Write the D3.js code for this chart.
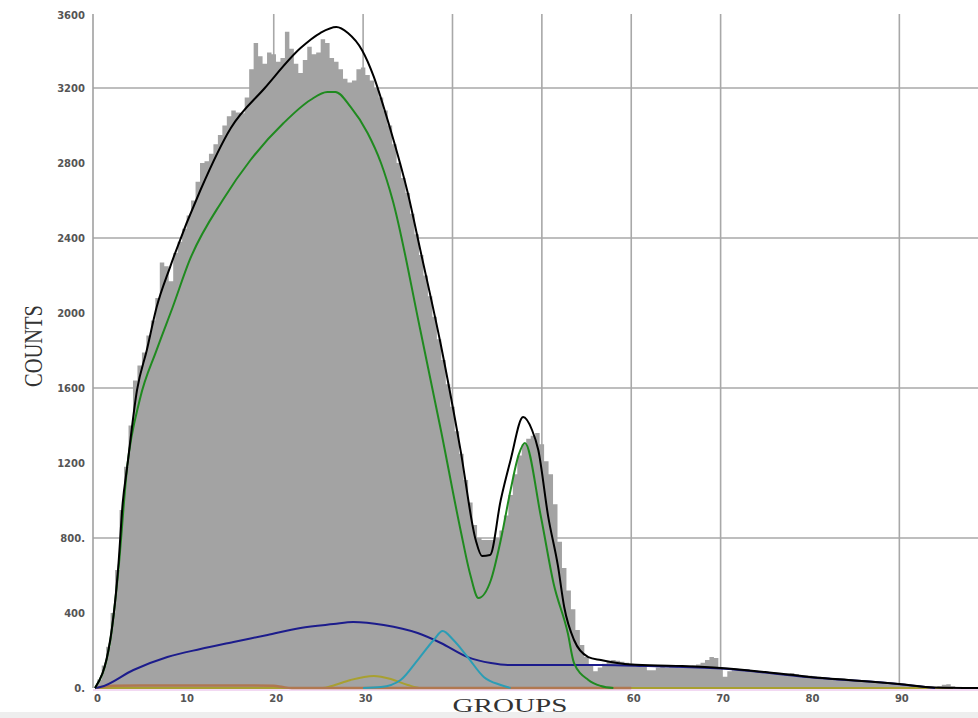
<!DOCTYPE html>
<html>
<head>
<meta charset="utf-8">
<script src="https://cdn.jsdelivr.net/npm/d3@7"></script>
<style>
  html, body { margin: 0; padding: 0; background: #ffffff; }
  svg { display: block; }
</style>
</head>
<body>
<svg id="chart" width="978" height="718"></svg>
<script>
// ---------------- DATA ----------------
// y axis ticks
const yTickValues = [0, 400, 800, 1200, 1600, 2000, 2400, 2800, 3200, 3600];
const yTickLabels = ["0.", "400", "800.", "1200", "1600", "2000", "2400", "2800", "3200", "3600"];
const yGridValues = [800, 1600, 2400, 3200];
// x axis ticks
const xTickValues = [0, 10, 20, 30, 60, 70, 80, 90];
const xTickLabels = ["0", "10", "20", "30", "60", "70", "80", "90"];
const xGridValues = [20, 30, 40, 50, 60, 70, 90];

// histogram (bin width 0.5 group, first bin at group 0)
const histStart = 0;
const histBinWidth = 0.5;
const histCounts = [
  0, 45, 120, 220, 400, 630, 950, 1180, 1400, 1640,
  1720, 1790, 1880, 1960, 2080, 2270, 2250, 2170, 2320, 2380,
  2450, 2520, 2600, 2700, 2800, 2810, 2850, 2900, 2950, 3000,
  3050, 3080, 3070, 3065, 3150, 3300, 3440, 3370, 3330, 3390,
  3380, 3340, 3360, 3500, 3410, 3330, 3280, 3350, 3420, 3380,
  3390, 3460, 3440, 3360, 3340, 3300, 3250, 3230, 3240, 3300,
  3310, 3270, 3240, 3200, 3150, 3080, 3000, 2900, 2800, 2720,
  2640, 2530, 2420, 2310, 2200, 2090, 1980, 1860, 1750, 1620,
  1500, 1370, 1250, 1110, 990, 870, 800, 790, 790, 790,
  800, 840, 920, 1030, 1140, 1240, 1300, 1330, 1345, 1360,
  1300, 1210, 1140, 980, 780, 640, 520, 420, 310, 230,
  165, 120, 90, 110, 130, 145, 150, 145, 140, 135,
  130, 125, 120, 120, 95, 95, 110, 115, 110, 112,
  115, 110, 110, 115, 120, 125, 135, 150, 165, 160,
  110, 60, 90, 95, 95, 100, 100, 95, 90, 88,
  85, 82, 80, 78, 75, 78, 80, 75, 70, 68,
  65, 62, 60, 58, 55, 52, 50, 47, 45, 42,
  40, 37, 35, 32, 30, 27, 25, 22, 20, 20,
  20, 18, 15, 12, 10, 8, 8, 6, 5, 10,
  18, 20, 10, 3, 0, 0, 0
];

// fitted total (black)
const totalGroups = [0, 1.7, 2.6, 3.1, 3.6, 4.7, 5.8, 6.9, 8.4, 11.8, 15.2, 19.0, 23.0, 25.2, 27.0, 28.3, 29.9, 31.2, 32.3, 33.4, 35, 36.4, 38.7, 40.9, 42.6, 43.3, 44.2, 45.4, 46.5, 47.9, 48.9, 49.6, 50.7, 51.8, 52.5, 53.6, 55.2, 56.6, 60, 65, 70, 75, 80, 85, 90, 94, 98.8];
const totalCounts = [0, 256, 645, 987, 1179, 1589, 1803, 2032, 2245, 2656, 2987, 3200, 3413, 3493, 3525, 3493, 3400, 3259, 3099, 2923, 2640, 2336, 1829, 1269, 789, 704, 709, 1003, 1216, 1445, 1376, 1269, 917, 651, 432, 256, 165, 149, 125, 118, 107, 85, 59, 40, 21, 3, 0];

// main component (green)
const mainGroups = [0, 1.7, 2.6, 3.6, 5.0, 6.9, 8.7, 10.6, 14.3, 17.4, 21.1, 24.1, 26.0, 26.9, 28.6, 30.5, 32.0, 33.3, 36.4, 38.7, 40.9, 42.0, 42.9, 44.3, 45.4, 46.5, 47.4, 48.1, 49.9, 51.3, 52.9, 53.6, 55.2, 56.6, 58];
const mainCounts = [0, 250, 620, 1179, 1536, 1803, 2032, 2283, 2603, 2816, 3013, 3136, 3179, 3179, 3099, 2960, 2800, 2603, 1909, 1376, 843, 603, 480, 576, 789, 1056, 1243, 1307, 912, 560, 293, 133, 43, 11, 0];

// broad component (blue)
const broadGroups = [0, 0.6, 4.3, 8.1, 11.8, 15.5, 19.3, 23.0, 26.7, 28.9, 32.3, 36.1, 38.7, 41.7, 44.3, 46.2, 56.6, 61.9, 70, 80, 90, 94];
const broadCounts = [0, 5, 96, 165, 208, 245, 283, 320, 341, 352, 336, 293, 240, 165, 133, 123, 123, 117, 104, 57, 20, 0];

// second peak component (teal)
const peakGroups = [30, 32.0, 34.2, 36.1, 37.9, 38.9, 40.1, 41.7, 43.5, 45.4, 46.5];
const peakCounts = [0, 5, 43, 149, 256, 304, 256, 165, 59, 16, 0];

// small component (olive)
const smallGroups = [0, 25.5, 26.5, 28.6, 31.2, 33.1, 35, 36.5, 96];
const smallCounts = [0, 0, 11, 43, 64, 48, 16, 0, 0];

// debris component (brown)
const debrisGroups = [0, 2, 5, 10, 15, 20, 21, 22, 60];
const debrisCounts = [0, 12, 14, 14, 14, 12, 5, 0, 0];

// ---------------- CHART ----------------
const svg = d3.select("#chart");
const x = d3.scaleLinear().domain([0, 98.8]).range([95, 978]);
const y = d3.scaleLinear().domain([0, 3600]).range([688, 13]);

// bottom light band
svg.append("rect").attr("x", 0).attr("y", 712).attr("width", 978).attr("height", 6).attr("fill", "#eeeeee");

// gridlines
const grid = svg.append("g");
grid.selectAll("line.h").data(yGridValues).join("line")
  .attr("x1", 93).attr("x2", 978)
  .attr("y1", d => y(d)).attr("y2", d => y(d))
  .attr("stroke", "#a8a8a8").attr("stroke-width", 1.6);
grid.selectAll("line.v").data(xGridValues).join("line")
  .attr("x1", d => x(d)).attr("x2", d => x(d))
  .attr("y1", 14).attr("y2", y(0))
  .attr("stroke", "#a8a8a8").attr("stroke-width", 1.6);
// y axis line
grid.append("line").attr("x1", 93).attr("x2", 93).attr("y1", 14).attr("y2", y(0))
  .attr("stroke", "#a0a0a0").attr("stroke-width", 1.6);

// histogram
const histData = histCounts.map((c, i) => ({ g: histStart + i * histBinWidth, c }));
svg.append("path")
  .datum(histData)
  .attr("fill", "#a3a3a3")
  .attr("d", d3.area().x(d => x(d.g)).y0(y(0)).y1(d => y(d.c)).curve(d3.curveStep));

// bottom pink axis line
svg.append("line").attr("x1", 93).attr("x2", 978).attr("y1", y(0) + 2).attr("y2", y(0) + 2)
  .attr("stroke", "#e6b4e6").attr("stroke-width", 1);

function drawLine(gs, cs, color, w) {
  const pts = gs.map((g, i) => [g, cs[i]]);
  svg.append("path").datum(pts)
    .attr("fill", "none").attr("stroke", color).attr("stroke-width", w)
    .attr("stroke-linejoin", "round")
    .attr("d", d3.line().x(d => x(d[0])).y(d => y(d[1])).curve(d3.curveMonotoneX));
}
drawLine(smallGroups, smallCounts, "#a8a030", 2);
drawLine(debrisGroups, debrisCounts, "#b07850", 2.5);
drawLine(broadGroups, broadCounts, "#1c1c8c", 2);
drawLine(peakGroups, peakCounts, "#2b9db5", 2);
drawLine(mainGroups, mainCounts, "#1f8a1f", 2);
drawLine(totalGroups, totalCounts, "#000000", 2);

// y tick labels
const yAxis = d3.axisLeft(y).tickValues(yTickValues).tickSize(0).tickPadding(0)
  .tickFormat((d, i) => yTickLabels[i]);
const yg = svg.append("g").attr("transform", "translate(85,0)").call(yAxis);
yg.select(".domain").remove();
yg.selectAll("text").attr("font-family", "DejaVu Sans").attr("font-weight", "bold")
  .attr("font-size", 10).attr("fill", "#555").attr("dy", "0.35em");
yg.selectAll(".tick").filter(d => d === 3600).select("text").attr("dy", "0.55em");

// x tick labels
const xAxis = d3.axisBottom(x).tickValues(xTickValues).tickSize(0).tickPadding(0)
  .tickFormat((d, i) => xTickLabels[i]);
const xg = svg.append("g").attr("transform", "translate(2,695)").call(xAxis);
xg.select(".domain").remove();
xg.selectAll("text").attr("font-family", "DejaVu Sans").attr("font-weight", "bold")
  .attr("font-size", 10).attr("fill", "#555");

// axis titles
svg.append("text")
  .attr("transform", "translate(42,346) rotate(-90)")
  .attr("text-anchor", "middle")
  .attr("font-family", "Liberation Serif").attr("font-size", 26)
  .attr("textLength", 82).attr("lengthAdjust", "spacingAndGlyphs")
  .attr("fill", "#333").text("COUNTS");
svg.append("text")
  .attr("x", 510).attr("y", 712)
  .attr("text-anchor", "middle")
  .attr("font-family", "Liberation Serif").attr("font-size", 19)
  .attr("textLength", 115).attr("lengthAdjust", "spacingAndGlyphs")
  .attr("fill", "#333").text("GROUPS");
</script>
</body>
</html>
